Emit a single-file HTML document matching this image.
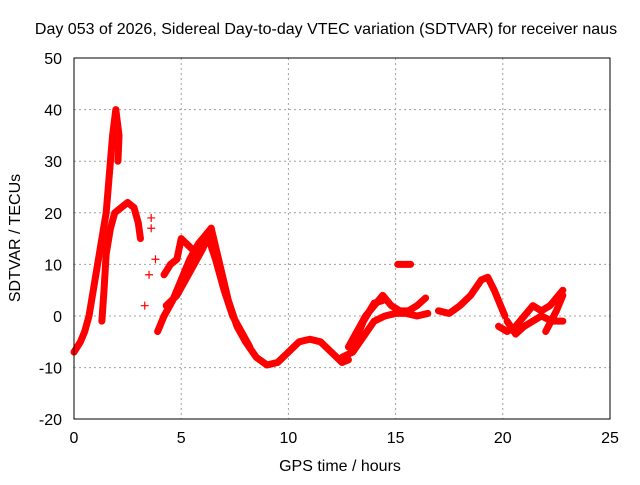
<!DOCTYPE html>
<html><head><meta charset="utf-8"><style>
body{margin:0;background:#fff}
svg text{font-family:"Liberation Sans",sans-serif;font-size:16px;fill:#000}
</style></head><body>
<svg id="chart" width="640" height="480">
<text x="326" y="34" text-anchor="middle">Day 053 of 2026, Sidereal Day-to-day VTEC variation (SDTVAR) for receiver naus</text>
<text x="340" y="471" text-anchor="middle">GPS time / hours</text>
<text transform="translate(20,238) rotate(-90)" text-anchor="middle">SDTVAR / TECUs</text>
<g id="grid"></g><g id="marks"></g>
<rect x="74" y="58" width="536" height="361" fill="none" stroke="#000"/>
</svg>
<script>
const xTicks=[0,5,10,15,20,25];
const yTicks=[-20,-10,0,10,20,30,40,50];
const traceA=[[0,-7],[0.3,-5],[0.5,-3],[0.7,0],[0.9,5],[1.1,10],[1.3,15],[1.5,20],[1.6,25],[1.7,30],[1.8,35],[1.95,40],[2.1,35],[2.05,30]];
const traceB=[[1.3,-1],[1.4,5],[1.5,12],[1.7,17],[1.9,20],[2.2,21],[2.5,22],[2.8,21],[3.0,18],[3.1,15]];
const traceC=[[3.9,-3],[4.2,0],[4.6,3],[5.0,7],[5.4,11],[5.8,14],[6.2,16],[6.4,17]];
const traceD=[[4.2,8],[4.5,10],[4.8,11],[5.0,15],[5.5,13],[5.8,12],[6.1,14],[6.4,17]];
const traceE=[[4.3,2],[4.8,4],[5.2,7],[5.6,10],[6.0,13],[6.3,16]];
const traceF=[[6.4,17],[6.8,10],[7.2,3],[7.6,-2],[8,-5],[8.5,-8],[9,-9.5],[9.5,-9],[10,-7],[10.5,-5],[11,-4.5],[11.5,-5],[12,-7],[12.5,-9],[12.8,-8.5]];
const traceF2=[[6.2,16],[6.6,11],[7.0,5],[7.4,0],[7.8,-3],[8.2,-6]];
const traceG=[[12.8,-6],[13.2,-3],[13.6,0],[14,2],[14.4,4],[14.8,2],[15.2,1],[15.6,1],[16,2],[16.4,3.5]];
const traceH=[[12.5,-8],[13,-7],[13.5,-4],[14,-1],[14.5,0],[15,0.5],[15.5,0.5],[16,0],[16.5,0.5]];
const traceI=[[13,-6],[13.5,-1],[14,2.5],[14.4,3]];
const traceJ=[[15.1,10],[15.7,10]];
const traceK=[[17,1],[17.5,0.5],[18,2],[18.5,4],[19,7],[19.3,7.5],[19.6,5],[19.9,2],[20.1,0]];
const traceL=[[19.8,-2],[20.2,-3],[20.6,-2],[21,0],[21.4,2],[21.8,1],[22.2,2],[22.8,5]];
const traceM=[[20.2,-1],[20.6,-3.5],[21,-2],[21.4,-1],[21.8,0],[22.3,-1],[22.8,-1]];
const traceN=[[22,-3],[22.5,1],[22.8,4]];
const scatter=[[3.6,19],[3.6,17],[3.3,2],[3.5,8],[3.8,11]];
const traces=[traceA,traceB,traceC,traceD,traceE,traceF,traceF2,traceG,traceH,traceI,traceJ,traceK,traceL,traceM,traceN];
const NS='http://www.w3.org/2000/svg';
const xs=v=>74+v*536/25, ys=v=>316-v*5.16;
const grid=document.getElementById('grid'), marks=document.getElementById('marks');
function mk(t,a,p){const e=document.createElementNS(NS,t);for(const k in a)e.setAttribute(k,a[k]);p.appendChild(e);return e;}
xTicks.forEach(v=>{const x=xs(v);
 if(v>0&&v<25){const l=mk('line',{x1:x,x2:x,y1:58,y2:419,stroke:'#a0a0a0','stroke-dasharray':'2,3'},grid);
 
 }
 const t=mk('text',{x:x,y:443,'text-anchor':'middle'},grid);t.textContent=v;
 
 });
yTicks.forEach(v=>{const y=ys(v);
 if(v>-20&&v<50){const l=mk('line',{x1:74,x2:610,y1:y,y2:y,stroke:'#a0a0a0','stroke-dasharray':'2,3'},grid);
 
 }
 const t=mk('text',{x:62,y:y+6,'text-anchor':'end'},grid);t.textContent=v;
 
 });
traces.forEach(tr=>{const p=mk('polyline',{points:tr.map(d=>xs(d[0])+','+ys(d[1])).join(' '),fill:'none',stroke:'#f00','stroke-width':7,'stroke-linejoin':'round','stroke-linecap':'round'},marks);
 
 });
scatter.forEach(d=>{const x=xs(d[0]),y=ys(d[1]);
 const p=mk('path',{d:`M${x-4},${y}H${x+4}M${x},${y-4}V${y+4}`,stroke:'#f00','stroke-width':1.2},marks);
 
 });
</script>
</body></html>
